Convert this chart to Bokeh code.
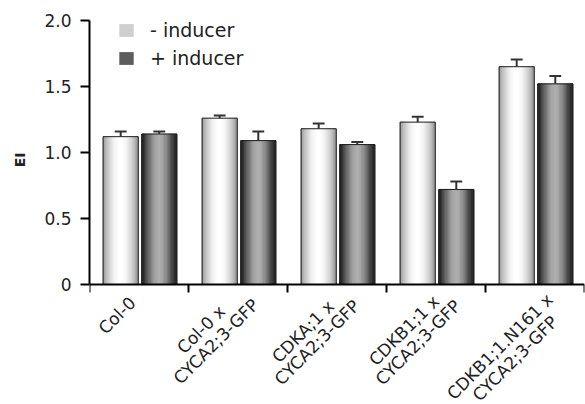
import numpy as np
from bokeh.plotting import figure
from bokeh.models import Range1d, FixedTicker, Legend, LegendItem, Label, LinearAxis
from bokeh.embed import file_html
from bokeh.resources import INLINE

# ---- data ----
categories = ["Col-0", "Col-0 x\nCYCA2;3-GFP", "CDKA;1 x\nCYCA2;3-GFP",
              "CDKB1;1 x\nCYCA2;3-GFP", "CDKB1;1.N161 x\nCYCA2;3-GFP"]
minus_inducer = [1.12, 1.26, 1.18, 1.23, 1.65]
minus_err = [0.04, 0.02, 0.04, 0.04, 0.055]
plus_inducer = [1.14, 1.09, 1.06, 0.72, 1.52]
plus_err = [0.02, 0.07, 0.02, 0.06, 0.06]
y_ticks = [0, 0.5, 1.0, 1.5, 2.0]
y_tick_labels = ["0", "0.5", "1.0", "1.5", "2.0"]
y_title = "EI"
series_labels = ["- inducer", "+ inducer"]

# ---- style: screen offsets (px) of each label line centre from (category centre, axis)
LABEL_LINE_OFFSETS = [
    [(-22, 31)],
    [(-37, 45), (-22, 57)],
    [(-34, 47), (-20, 58)],
    [(-32, 46), (-18, 58)],
    [(-35, 62), (-20, 74)],
]

FONT = "DejaVu Sans"
W, H = 585, 404
LEFT, RIGHT = 89, 1
PLOT_TOP, AXIS_Y = 20, 284          # pixel rows of y=2.0 and y=0
Y_MAX = y_ticks[-1]
px_per_y = (AXIS_Y - PLOT_TOP) / Y_MAX
# frame covers the whole height so the rotated category labels below the axis stay visible
y_lo = -(H - AXIS_Y) / px_per_y
y_hi = Y_MAX + PLOT_TOP / px_per_y

n = len(categories)
centers = np.arange(n) + 0.5
px_per_x = (W - LEFT - RIGHT) / n

p = figure(width=W, height=H, output_backend="svg", toolbar_location=None,
           x_range=Range1d(0, n), y_range=Range1d(y_lo, y_hi),
           min_border_left=LEFT, min_border_right=RIGHT, min_border_top=0,
           min_border_bottom=0)
p.outline_line_color = None
p.grid.grid_line_color = None
p.background_fill_color = "white"

BAR_W = 0.355
N_STRIPES = 30


def gradient_bar(offset, values, lo, hi, power):
    vals = np.array(values)
    sw = BAR_W / N_STRIPES
    for i in range(N_STRIPES):
        t = (i + 0.5) / N_STRIPES
        b = lo + (hi - lo) * np.sin(np.pi * t) ** power
        c = int(round(b))
        col = "#%02x%02x%02x" % (c, c, c)
        xs = centers + offset - BAR_W / 2 + (i + 0.5) * sw
        p.vbar(x=xs, top=vals, bottom=0, width=sw, fill_color=col,
               line_color=col, line_width=0.7)
    p.vbar(x=centers + offset, top=vals, bottom=0, width=BAR_W,
           fill_color=None, line_color="#1e1e1e", line_width=1)


def error_bars(offset, values, errs):
    vals = np.array(values)
    tops = vals + np.array(errs)
    xs = centers + offset
    p.segment(x0=xs, y0=vals, x1=xs, y1=tops, line_color="#333333", line_width=2)
    p.segment(x0=xs - 0.06, y0=tops, x1=xs + 0.06, y1=tops,
              line_color="#333333", line_width=2)


gradient_bar(-0.185, minus_inducer, 140, 255, 0.8)
gradient_bar(0.205, plus_inducer, 30, 172, 1.4)
error_bars(-0.185, minus_inducer, minus_err)
error_bars(0.205, plus_inducer, plus_err)

# legend swatch colours (average look of the gradients)
leg_minus = p.vbar(x=[-10], top=[0], width=0.1, fill_color="#cfcfcf", line_color=None)
leg_plus = p.vbar(x=[-10], top=[0], width=0.1, fill_color="#5c5c5c", line_color=None)

legend = Legend(items=[LegendItem(label=series_labels[0], renderers=[leg_minus]),
                       LegendItem(label=series_labels[1], renderers=[leg_plus])],
                location=(28, 335), border_line_color=None, background_fill_alpha=0,
                glyph_width=18, glyph_height=16, label_text_font_size="19px",
                label_text_font=FONT, label_standoff=15, spacing=6,
                padding=0, margin=0, label_text_color="#222222")
p.add_layout(legend)

# y axis (line limited to 0..2)
ya = p.yaxis[0]
ya.bounds = (0, Y_MAX)
ya.ticker = FixedTicker(ticks=y_ticks)
ya.major_label_overrides = {t: l for t, l in zip(y_ticks, y_tick_labels)}
ya.major_label_text_font = FONT
ya.major_label_text_font_size = "17px"
ya.major_label_text_color = "#222222"
ya.major_tick_out = 9
ya.major_tick_in = 0
ya.major_tick_line_width = 2
ya.minor_tick_line_color = None
ya.axis_line_width = 2
ya.major_label_standoff = 9

# y title as the single label of an outer axis, centred on the 0..2 span
title_axis = LinearAxis(ticker=FixedTicker(ticks=[Y_MAX / 2]),
                        major_label_overrides={Y_MAX / 2: y_title},
                        major_label_orientation=np.pi / 2,
                        major_label_text_font=FONT,
                        major_label_text_font_style="bold",
                        major_label_text_font_size="14px",
                        major_label_text_color="#222222",
                        major_label_standoff=22,
                        major_tick_out=0, major_tick_in=0,
                        major_tick_line_color=None, minor_tick_line_color=None,
                        axis_line_color=None)
p.add_layout(title_axis, "left")

# x axis drawn at y = 0; tick marks at group boundaries
xa = p.xaxis[0]
xa.fixed_location = 0
xa.ticker = FixedTicker(ticks=[], minor_ticks=list(np.arange(n + 1)))
xa.major_tick_line_color = None
xa.major_tick_out = 0
xa.major_tick_in = 0
xa.major_label_standoff = 0
xa.major_label_text_font_size = "0px"
xa.minor_tick_out = 8
xa.minor_tick_in = 0
xa.minor_tick_line_width = 2
xa.minor_tick_line_color = "black"
xa.axis_line_width = 2

# rotated category labels (positions = category centre + pixel offset, via the scales)
for c, cat, offs in zip(centers, categories, LABEL_LINE_OFFSETS):
    for line, (dx, dy) in zip(cat.split("\n"), offs):
        p.add_layout(Label(x=float(c + dx / px_per_x), y=float(-dy / px_per_y),
                           text=line, angle=np.pi / 4, text_align="center",
                           text_baseline="middle", text_font=FONT,
                           text_font_size="17px", text_color="#222222"))

open("out.html", "w").write(file_html(p, INLINE))
